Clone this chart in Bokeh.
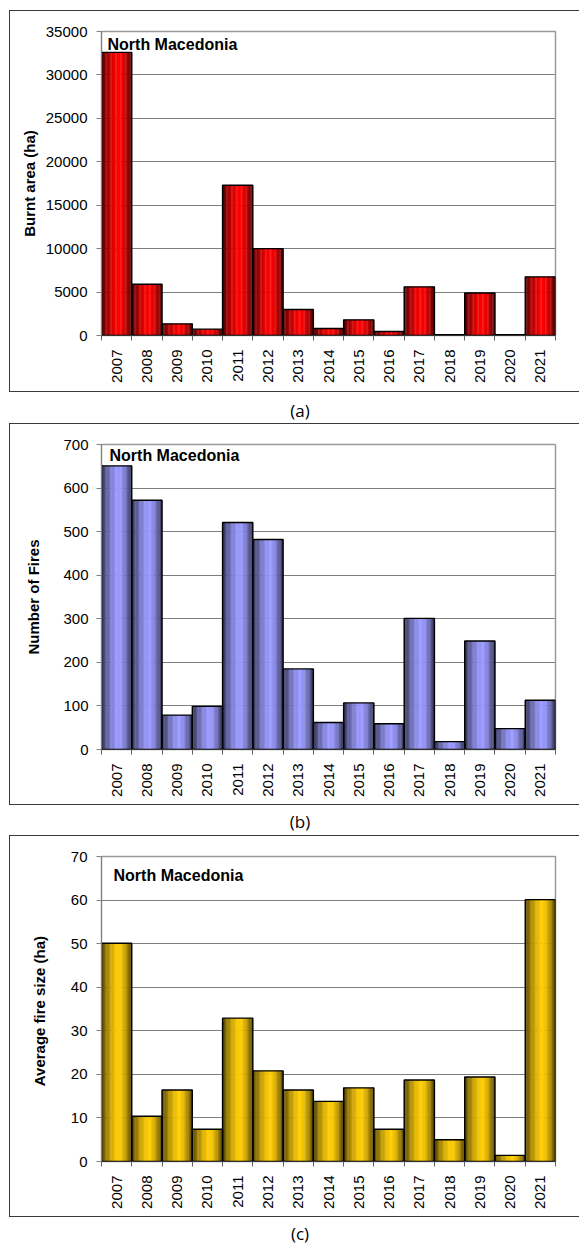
import math
from bokeh.plotting import figure
from bokeh.models import Range1d, FixedTicker, Label, Div, Spacer, ColumnDataSource
from bokeh.layouts import column
from bokeh.embed import file_html
from bokeh.resources import INLINE

# ---------------- data ----------------
years = [2007, 2008, 2009, 2010, 2011, 2012, 2013, 2014, 2015, 2016, 2017, 2018, 2019, 2020, 2021]
year_labels = [str(y) for y in years]
burnt_area = [32600, 5900, 1340, 730, 17300, 10000, 3000, 800, 1800, 460, 5600, 90, 4900, 90, 6750]
num_fires = [651, 572, 79, 99, 521, 482, 185, 62, 107, 59, 301, 18, 249, 48, 113]
avg_fire_size = [50.1, 10.4, 16.4, 7.4, 32.9, 20.8, 16.4, 13.8, 16.9, 7.4, 18.7, 5.0, 19.4, 1.4, 60.1]
country = "North Macedonia"
captions = ["(a)", "(b)", "(c)"]

TICK_FONT = "Liberation Sans"
N_STRIPS = 24


def shade(base, t, lo=0.3, peak=0.58):
    if t < peak:
        d = (peak - t) / peak
    else:
        d = (t - peak) / (1 - peak)
    f = lo + (1 - lo) * (1 - d ** 1.6)
    r, g, b = base
    return "#%02x%02x%02x" % (int(r * f), int(g * f), int(b * f))


def make_panel(values, base, ymax, step, ylabel, borders, lab_off, ytick_standoff, ylab_standoff):
    left, right, top, bottom = borders
    W, H = 570, 382          # outer size including the 1px frame lines
    CW, CH = 569, 380        # inner canvas size
    fw = CW - left - right
    fh = CH - top - bottom
    p = figure(width=W, height=H,
               x_range=Range1d(2006.5, 2021.5), y_range=Range1d(0, ymax),
               output_backend="svg", toolbar_location=None,
               min_border_left=left, min_border_right=right,
               min_border_top=top, min_border_bottom=bottom,
               background_fill_color="white", border_fill_color="white",
               margin=0,
               styles={"border-top": "1px solid #3a3a3a",
                       "border-left": "1px solid #3a3a3a",
                       "border-bottom": "1px solid #3a3a3a"})
    p.outline_line_color = "#9a9a9a"
    p.outline_line_width = 1.5

    # gradient bars built from thin strips
    xs, tops, cols = [], [], []
    for i, yv in enumerate(years):
        for k in range(N_STRIPS):
            t = (k + 0.5) / N_STRIPS
            xs.append(yv - 0.5 + t)
            tops.append(values[i])
            cols.append(shade(base, t))
    src = ColumnDataSource(dict(x=xs, top=tops, color=cols))
    p.vbar(x="x", top="top", bottom=0, width=1.0 / N_STRIPS * 1.25, fill_color="color",
           line_color=None, source=src)
    p.vbar(x=years, top=values, bottom=0, width=1.0, fill_alpha=0,
           line_color="black", line_width=1.4)

    # grid
    p.xgrid.visible = False
    p.ygrid.grid_line_color = "#7f7f7f"
    p.ygrid.grid_line_width = 1

    # y axis
    yax = p.yaxis[0]
    yax.ticker = FixedTicker(ticks=list(range(0, ymax + 1, step)))
    yax.axis_line_color = "#808080"
    yax.major_tick_out = 5
    yax.major_tick_in = 0
    yax.major_tick_line_color = "#808080"
    yax.minor_tick_line_color = None
    yax.major_label_standoff = ytick_standoff
    yax.major_label_text_font = TICK_FONT
    yax.major_label_text_font_size = "15px"
    yax.major_label_text_color = "black"
    yax.axis_label = ylabel
    yax.axis_label_text_font = TICK_FONT
    yax.axis_label_text_font_style = "bold"
    yax.axis_label_text_font_size = "15px"
    yax.axis_label_text_color = "black"
    yax.axis_label_standoff = ylab_standoff

    # x axis: labels at centres, ticks at boundaries
    xax = p.xaxis[0]
    xax.ticker = FixedTicker(ticks=years, minor_ticks=[y - 0.5 for y in years] + [years[-1] + 0.5])
    xax.major_label_overrides = {y: lab for y, lab in zip(years, year_labels)}
    xax.major_tick_line_color = None
    xax.major_tick_out = 0
    xax.major_tick_in = 0
    xax.minor_tick_out = 5
    xax.minor_tick_in = 0
    xax.minor_tick_line_color = "#606060"
    xax.axis_line_color = "#303030"
    xax.major_label_orientation = math.pi / 2
    xax.major_label_standoff = 9
    xax.major_label_text_font = TICK_FONT
    xax.major_label_text_font_size = "15px"
    xax.major_label_text_color = "black"

    dx, dy = lab_off
    p.add_layout(Label(x=2006.5 + dx * 15.0 / fw, y=ymax - dy * ymax / fh,
                       text=country, text_font=TICK_FONT, text_font_style="bold",
                       text_font_size="16px", text_baseline="middle", text_align="left",
                       text_color="black"))
    return p


# frames of plots in a column are aligned by Bokeh, so use common left/right borders
pa = make_panel(burnt_area, (255, 0, 0), 35000, 5000, "Burnt area (ha)",
                (91, 25, 20, 58), (6, 13), 9, 5)
pb = make_panel(num_fires, (153, 153, 255), 700, 100, "Number of Fires",
                (91, 25, 20, 57), (8, 11), 8, 18)
pc = make_panel(avg_fire_size, (255, 204, 0), 70, 10, "Average  fire size (ha)",
                (91, 25, 20, 57), (12, 19), 9, 20)


def caption(txt, h, shift):
    return Div(text='<div style="width:570px;height:%dpx;box-sizing:border-box;padding-left:12px;'
                    'text-align:center;font-family:\'Open Sans\';font-size:17px;'
                    'line-height:%dpx;color:black;position:relative;top:%dpx;">%s</div>'
                    % (h, h, shift, txt),
               width=570, height=h, margin=0, styles={"overflow": "visible"})


layout = column(Spacer(height=10, width=570, margin=0), pa, caption(captions[0], 31, 3),
                pb, caption(captions[1], 30, 2), pc, caption(captions[2], 24, 5),
                spacing=0, margin=(0, 0, 0, 9))

open("out.html", "w").write(file_html(layout, INLINE))
